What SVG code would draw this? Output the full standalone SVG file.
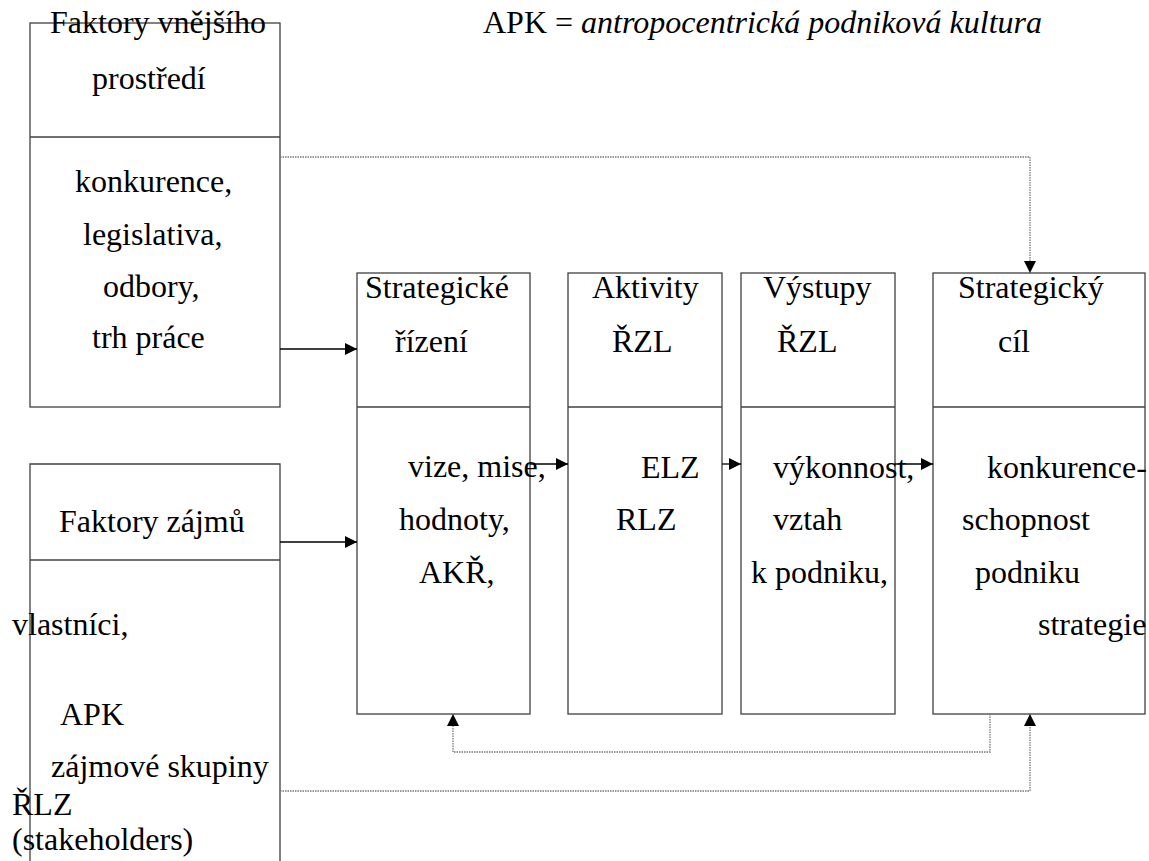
<svg xmlns="http://www.w3.org/2000/svg" width="1149" height="861" viewBox="0 0 1149 861">
<style>
.box{fill:none;stroke:#404040;stroke-width:1.3}
.t{font-family:"Times New Roman","Liberation Serif",Tinos,"Nimbus Roman","DejaVu Serif",serif;font-size:32px;fill:#000}
.i{font-style:italic}
.arr{fill:none;stroke:#000;stroke-width:1.3}
.dot{fill:none;stroke:#777;stroke-width:1.3;stroke-dasharray:1.5,1}
</style>
<defs>
<marker id="ah" viewBox="0 0 12 12" refX="12" refY="6" markerWidth="12" markerHeight="12" markerUnits="userSpaceOnUse" orient="auto">
<path d="M0,0 L12,6 L0,12 Z" fill="#000"/>
</marker>
</defs>
<rect width="1149" height="861" fill="#fff"/>
<text class="t" x="483" y="33">APK = <tspan class="i">antropocentrická podniková kultura</tspan></text>
<g id="faktory-vnejsiho">
<rect class="box" x="30" y="23" width="250" height="384"/>
<line class="box" x1="30" y1="137" x2="280" y2="137"/>
<text class="t" x="50" y="33">Faktory vnějšího</text>
<text class="t" x="92" y="89">prostředí</text>
<text class="t" x="75" y="192">konkurence,</text>
<text class="t" x="83" y="245">legislativa,</text>
<text class="t" x="103" y="297">odbory,</text>
<text class="t" x="92" y="348">trh práce</text>
</g>
<g id="faktory-zajmu">
<path class="box" d="M30,870 V464 H280 V870"/>
<line class="box" x1="30" y1="560" x2="280" y2="560"/>
<text class="t" x="59" y="532">Faktory zájmů</text>
<text class="t" x="12" y="635">vlastníci,</text>
<text class="t" x="60" y="725">APK</text>
<text class="t" x="51" y="777">zájmové skupiny</text>
<text class="t" x="12" y="815">ŘLZ</text>
<text class="t" x="12" y="850">(stakeholders)</text>
</g>
<g id="strategicke-rizeni">
<rect class="box" x="357" y="273" width="173" height="441"/>
<line class="box" x1="357" y1="407" x2="530" y2="407"/>
<text class="t" x="365" y="298">Strategické</text>
<text class="t" x="395" y="352">řízení</text>
<text class="t" x="408" y="477">vize, mise,</text>
<text class="t" x="399" y="530">hodnoty,</text>
<text class="t" x="419" y="583">AKŘ,</text>
</g>
<g id="aktivity">
<rect class="box" x="568" y="273" width="154" height="441"/>
<line class="box" x1="568" y1="407" x2="722" y2="407"/>
<text class="t" x="592" y="298">Aktivity</text>
<text class="t" x="612" y="352">ŘZL</text>
<text class="t" x="641" y="478">ELZ</text>
<text class="t" x="616" y="530">RLZ</text>
</g>
<g id="vystupy">
<rect class="box" x="741" y="273" width="154" height="441"/>
<line class="box" x1="741" y1="407" x2="895" y2="407"/>
<text class="t" x="763" y="298">Výstupy</text>
<text class="t" x="777" y="352">ŘZL</text>
<text class="t" x="773" y="478">výkonnost,</text>
<text class="t" x="773" y="530">vztah</text>
<text class="t" x="751" y="583">k podniku,</text>
</g>
<g id="strategicky-cil">
<rect class="box" x="933" y="273" width="212" height="441"/>
<line class="box" x1="933" y1="407" x2="1145" y2="407"/>
<text class="t" x="958" y="298">Strategický</text>
<text class="t" x="998" y="352">cíl</text>
<text class="t" x="987" y="478">konkurence-</text>
<text class="t" x="962" y="530">schopnost</text>
<text class="t" x="975" y="583">podniku</text>
<text class="t" x="1038" y="635">strategie</text>
</g>
<g id="connectors">
<line class="arr" x1="280" y1="349" x2="357" y2="349" marker-end="url(#ah)"/>
<line class="arr" x1="280" y1="542" x2="357" y2="542" marker-end="url(#ah)"/>
<line class="arr" x1="530" y1="464" x2="568" y2="464" marker-end="url(#ah)"/>
<line class="arr" x1="722" y1="464" x2="741" y2="464" marker-end="url(#ah)"/>
<line class="arr" x1="895" y1="464" x2="933" y2="464" marker-end="url(#ah)"/>
<path class="dot" d="M280,157 H1030 V273" marker-end="url(#ah)"/>
<path class="dot" d="M280,791 H1030 V714" marker-end="url(#ah)"/>
<path class="dot" d="M990,714 V752 H453 V714" marker-end="url(#ah)"/>
</g>
</svg>
